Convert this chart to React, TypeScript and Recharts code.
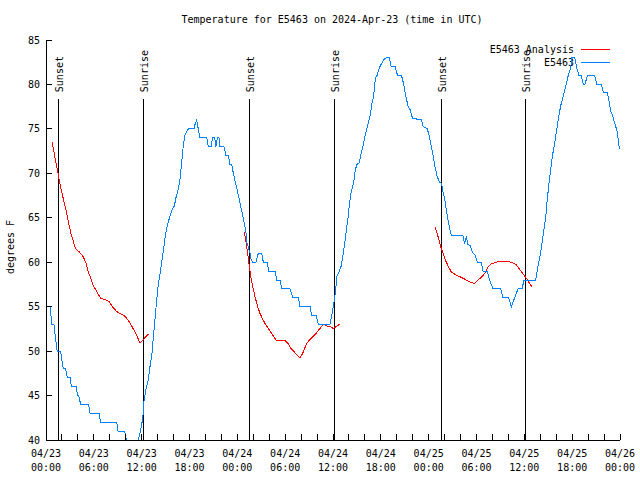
import { LineChart, Line, XAxis, YAxis, ReferenceLine, Customized } from "recharts";

const FONT = "'DejaVu Sans Mono', monospace";

// hours since 2024-04-23 00:00 UTC
const obsHours = [
  0, 0.59, 0.67, 1.0, 1.2, 1.4, 1.84, 1.96, 2.17, 2.45, 2.67, 3.05, 3.18, 3.8, 3.95, 4.1, 4.35, 5.35, 5.52, 6.65,
  6.86, 8.87, 9.03, 9.87, 10.1, 10.4, 11.2, 11.58, 11.85, 12.15, 12.3, 12.54, 12.83, 13.05, 13.26, 13.46, 13.67,
  13.89, 14.09, 14.39, 14.59, 14.8, 15.02, 15.22, 15.55, 15.84, 16.09, 16.31, 16.6, 16.81, 17.02, 17.22, 17.43,
  17.85, 18.56, 18.69, 18.9, 19.1, 19.32, 20.16, 20.36, 20.7, 20.91, 21.15, 21.32, 21.5, 21.7, 21.83, 22.33, 22.58,
  22.87, 23.08, 23.3, 23.5, 23.85, 24.2,
  24.42, 24.67, 24.87, 25.09, 25.18, 25.38, 25.59, 25.72, 25.93, 26.34, 26.63, 27.06, 27.26, 27.76, 27.93, 28.73,
  28.94, 29.35, 29.57, 30.61, 30.95, 31.65, 31.86, 33.12, 33.33, 33.87, 34.16, 35.62, 35.84, 36.04, 36.3, 36.5,
  36.79, 37.04, 37.2, 37.42, 37.63, 37.88, 38.05, 38.3, 38.6, 38.8, 39.01, 39.3, 39.55, 39.85, 40.05, 40.39, 40.68,
  40.89, 41.1, 41.31, 41.52, 41.73, 42.06, 42.36, 42.65, 43.06, 43.3, 43.8, 44.1, 44.6, 44.87, 45.07, 45.41, 45.7,
  45.97, 47.1, 47.29, 47.83, 48.04, 48.33, 48.58, 48.8, 49.05, 49.36, 49.61,
  49.8, 50.01, 50.21, 50.43, 50.64, 50.84, 52.3, 52.51, 52.72, 52.9, 53.18, 53.56, 53.85, 54.1, 54.6, 54.81, 55.36,
  55.65, 56.07, 57.03, 57.32, 58.04, 58.37, 58.7, 58.99, 59.21, 59.71, 59.96, 61.43, 61.72, 61.97, 62.26, 62.47,
  62.68, 62.88, 63.1, 63.31, 63.51, 63.81, 64.01, 64.26, 64.56, 64.89, 65.19, 65.48, 65.82, 65.94, 66.32, 66.57,
  66.86, 67.15, 67.4, 67.61, 67.9, 68.83, 69.08, 69.66, 69.91, 70.41, 70.62, 70.84, 71.04, 71.25, 71.46, 71.66,
  71.88, 72,
];
const obsTemps = [
  55, 55, 53, 53, 51.4, 50, 50, 49.2, 48, 48, 47, 47, 46, 46, 45, 45, 44, 44, 43, 43,
  42, 42, 41, 41, 40, 39, 39, 40, 41, 42.5, 44.5, 45.7, 46.8, 48.3, 49.4, 51.5, 53.6,
  55.8, 57.5, 59.2, 60.5, 61.8, 63.3, 64.1, 65.2, 66, 66.3, 67.3, 68.2, 69.3, 71.2, 73.1, 74.3,
  75, 75, 75.5, 76, 75, 74, 74, 73, 73, 74, 74, 73, 74, 74, 73, 73, 72,
  72, 71, 71, 70, 68.6, 67.3,
  66.3, 65.3, 64.4, 63.3, 62.3, 61.7, 61, 60.3, 60, 60, 61, 61, 60, 60, 59, 59,
  58, 58, 57, 57, 56, 56, 55, 55, 54, 54, 53, 53, 54, 55, 56.6, 58.4,
  59, 59.6, 60.5, 61.8, 63.3, 65, 66.5, 68, 69, 70.4, 71, 71.2, 72.3, 73.4, 74.4, 75.5, 76.6,
  77.9, 78.7, 80.7, 81, 81.7, 82.3, 82.8, 83, 83, 82, 82, 81, 81, 80, 78.9, 77.6, 77.1,
  76.2, 76, 75.3, 75, 74.3, 73, 71.9, 70.7, 69.7, 69, 68.9,
  67.9, 67.2, 65.9, 64.75, 63.8, 63, 63, 62.1, 62.9, 62, 61.9, 61, 60.8, 60, 60, 59, 59,
  58, 57, 57, 56, 56, 55, 55.8, 56.5, 57, 57, 58, 58, 59.6, 60.7, 62.4, 63.7,
  65, 67.1, 68.9, 70.4, 71.9, 73.4, 74.6, 76.1, 77.6, 78.7, 79.8, 80.9, 81.9, 83, 83, 81.9,
  81, 81, 80, 80, 81, 81, 80, 80, 79.1, 79.1, 78.1, 77, 76.6, 75.9, 75.3, 74.6,
  73.1, 72.8,
];

// analysis runs, null breaks the line between days
const anaHours = [
  0.75, 1.0, 1.22, 1.42, 1.63, 1.92, 2.26, 2.6, 2.89, 3.17, 3.51, 3.73, 4.14, 4.68, 4.98, 5.31, 5.61, 5.93, 6.36,
  6.86, 7.49, 7.9, 8.32, 8.87, 9.37, 9.87, 10.29, 10.7, 11.13, 11.45, 11.79, 12.2, 12.83,
  13,
  24.87, 25.09, 25.3, 25.5, 25.72, 25.93, 26.25, 26.55, 26.84, 27.18, 27.6, 28.01, 28.44, 28.85, 29.89, 30.32,
  30.73, 31.36, 31.86, 32.2, 32.7, 33.24, 33.87, 34.37, 34.78, 35.34, 35.75, 36.04, 36.88,
  37,
  48.83, 49.17, 49.51, 49.8, 50.09, 50.43, 50.84, 51.47, 52.1, 52.72, 53.35, 53.78, 54.19, 54.6, 55.03, 55.44,
  55.86, 56.28, 56.91, 57.95, 58.58, 58.99, 59.42, 59.84, 60.25, 60.93,
];
const anaTemps = [
  73.5, 72.4, 71.3, 70.4, 69.4, 68.1, 66.8, 65.5, 64.2, 63.1, 62.1, 61.5, 61.2, 60.6, 60, 58.9, 58.2, 57.4, 56.7,
  55.95, 55.75, 55.6, 55, 54.45, 54.2, 53.95, 53.5, 52.9, 52.2, 51.6, 50.9, 51.3, 51.9,
  null,
  63.4, 62.3, 61, 59.5, 58.2, 57.25, 56, 55, 54.25, 53.6, 52.9, 52.4, 51.8, 51.25, 51.25, 50.9,
  50.3, 49.7, 49.2, 49.75, 50.9, 51.4, 52, 52.55, 53.05, 52.8, 52.7, 52.55, 53.05,
  null,
  63.9, 62.9, 61.75, 61, 60.25, 59.6, 58.9, 58.55, 58.3, 58, 57.7, 57.6, 58, 58.3, 58.75, 59.5,
  59.8, 59.95, 60.1, 60.1, 59.9, 59.7, 59.2, 58.7, 58.2, 57.25,
];

const sunsetHours = [1.53, 25.57, 49.6];
const sunriseHours = [12.2, 36.25, 60.2];

const tickHours = [
  0, 2, 4, 6, 8, 10, 12, 14, 16, 18, 20, 22, 24, 26, 28, 30, 32, 34, 36, 38, 40, 42, 44, 46, 48, 50, 52, 54, 56,
  58, 60, 62, 64, 66, 68, 70, 72,
];
const labelHours = [0, 6, 12, 18, 24, 30, 36, 42, 48, 54, 60, 66, 72];
const dateLabels = ["04/23", "04/23", "04/23", "04/23", "04/24", "04/24", "04/24", "04/24", "04/25", "04/25", "04/25", "04/25", "04/26"];
const timeLabels = ["00:00", "06:00", "12:00", "18:00", "00:00", "06:00", "12:00", "18:00", "00:00", "06:00", "12:00", "18:00", "00:00"];
const tempTicks = [40, 45, 50, 55, 60, 65, 70, 75, 80, 85];

const obsData = obsHours.map((h, i) => ({ h, t: obsTemps[i] }));
const anaData = anaHours.map((h, i) => ({ h, t: anaTemps[i] }));

const BottomTick = ({ x, y, payload }: any) => {
  const i = labelHours.indexOf(payload.value);
  return (
    <g>
      <line x1={x} y1={y} x2={x} y2={y - 6} stroke="#000" />
      {i >= 0 && (
        <text x={x} y={y + 17} textAnchor="middle" fontFamily={FONT} fontSize={10} fill="#000">
          <tspan x={x}>{dateLabels[i]}</tspan>
          <tspan x={x} dy={14}>{timeLabels[i]}</tspan>
        </text>
      )}
    </g>
  );
};

const TopTick = ({ x, y }: any) => <line x1={x} y1={y} x2={x} y2={y + 6} stroke="#000" />;

const LeftTick = ({ x, y, payload }: any) => (
  <g>
    <line x1={x} y1={y} x2={x + 6} y2={y} stroke="#000" />
    <text x={x - 6} y={y + 3.5} textAnchor="end" fontFamily={FONT} fontSize={10} fill="#000">
      {payload.value}
    </text>
  </g>
);

const RightTick = ({ x, y }: any) => <line x1={x} y1={y} x2={x - 6} y2={y} stroke="#000" />;

const sunShape = (label: string) => (props: any) => {
  const { x1, y1, x2, y2 } = props;
  const top = Math.min(y1, y2);
  return (
    <g>
      <line x1={x1} y1={y1} x2={x2} y2={y2} stroke="#000" />
      <text
        x={x1 + 4.5}
        y={top - 6.5}
        transform={`rotate(-90 ${x1 + 4.5} ${top - 6.5})`}
        fontFamily={FONT}
        fontSize={10}
        fill="#000"
      >
        {label}
      </text>
    </g>
  );
};

const Decorations = () => (
  <g fontFamily={FONT} fontSize={10} fill="#000">
    <text x={332} y={22.5} textAnchor="middle">
      Temperature for E5463 on 2024-Apr-23 (time in UTC)
    </text>
    <text x={14} y={247} textAnchor="middle" transform="rotate(-90 14 247)">
      degrees F
    </text>
    <text x={574} y={53} textAnchor="end">E5463 Analysis</text>
    <line x1={581} y1={49.5} x2={610} y2={49.5} stroke="#ff0000" />
    <text x={574} y={66} textAnchor="end">E5463</text>
    <line x1={581} y1={62.5} x2={610} y2={62.5} stroke="#0080ff" />
  </g>
);

export default function App() {
  return (
    <div style={{ position: "absolute", left: 0, top: 0, background: "#fff", shapeRendering: "crispEdges" }}>
      <LineChart width={640} height={480} margin={{ top: 40, right: 20, bottom: 0, left: 0 }}>
        <XAxis
          xAxisId="bottom"
          type="number"
          dataKey="h"
          domain={[0, 72]}
          ticks={tickHours}
          interval={0}
          allowDataOverflow
          height={40}
          tickSize={0}
          tickMargin={0}
          tickLine={false}
          tick={<BottomTick />}
          axisLine={{ stroke: "#000" }}
        />
        <XAxis
          xAxisId="top"
          orientation="top"
          type="number"
          dataKey="h"
          domain={[0, 72]}
          ticks={tickHours}
          interval={0}
          allowDataOverflow
          height={0}
          tickSize={0}
          tickMargin={0}
          tickLine={false}
          tick={<TopTick />}
          axisLine={{ stroke: "#000" }}
        />
        <YAxis
          yAxisId="left"
          type="number"
          domain={[40, 85]}
          ticks={tempTicks}
          interval={0}
          allowDataOverflow
          width={46}
          tickSize={0}
          tickMargin={0}
          tickLine={false}
          tick={<LeftTick />}
          axisLine={{ stroke: "#000" }}
        />
        <YAxis
          yAxisId="right"
          orientation="right"
          type="number"
          domain={[40, 85]}
          ticks={tempTicks}
          interval={0}
          allowDataOverflow
          width={0}
          tickSize={0}
          tickMargin={0}
          tickLine={false}
          tick={<RightTick />}
          axisLine={{ stroke: "#000" }}
        />
        {sunsetHours.map((h) => (
          <ReferenceLine
            key={`ss-${h}`}
            xAxisId="bottom"
            yAxisId="left"
            segment={[{ x: h, y: 40 }, { x: h, y: 78.4 }]}
            shape={sunShape("Sunset")}
          />
        ))}
        {sunriseHours.map((h) => (
          <ReferenceLine
            key={`sr-${h}`}
            xAxisId="bottom"
            yAxisId="left"
            segment={[{ x: h, y: 40 }, { x: h, y: 78.4 }]}
            shape={sunShape("Sunrise")}
          />
        ))}
        <Line
          xAxisId="bottom"
          yAxisId="left"
          data={anaData}
          dataKey="t"
          type="linear"
          stroke="#ff0000"
          strokeWidth={1}
          dot={false}
          connectNulls={false}
          isAnimationActive={false}
        />
        <Line
          xAxisId="bottom"
          yAxisId="left"
          data={obsData}
          dataKey="t"
          type="linear"
          stroke="#0080ff"
          strokeWidth={1}
          dot={false}
          isAnimationActive={false}
        />
        <Customized component={<Decorations />} />
      </LineChart>
    </div>
  );
}
